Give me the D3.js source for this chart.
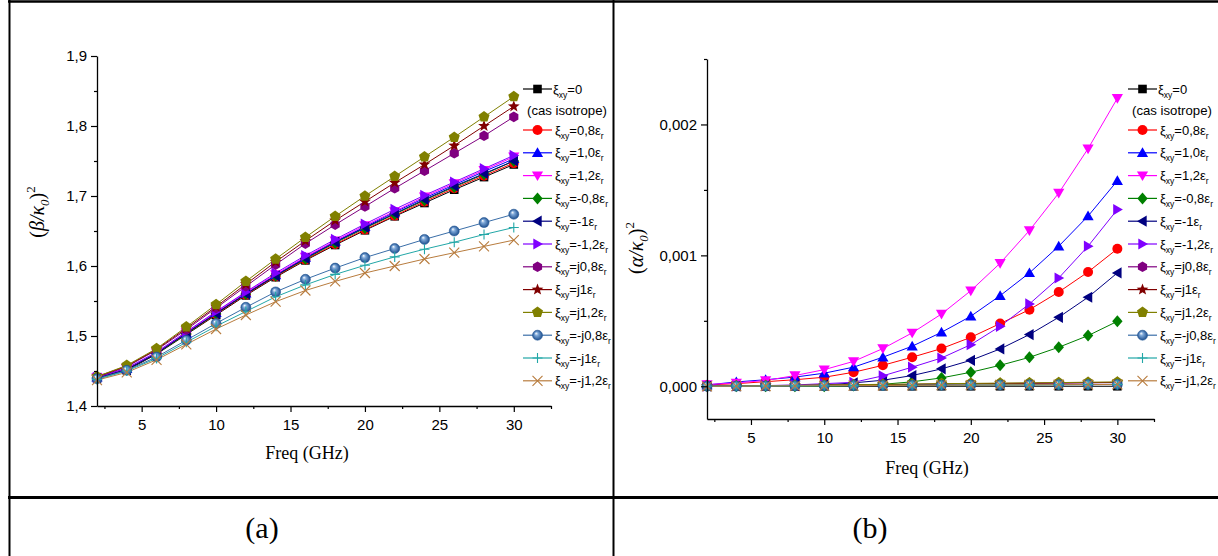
<!DOCTYPE html>
<html><head><meta charset="utf-8">
<script src="https://cdn.jsdelivr.net/npm/d3@7"></script>
<style>
body{margin:0;background:#fff}
svg{display:block}
</style></head><body>
<svg id="c" width="1218" height="556"></svg>
<script>
// ---------- data ----------
const freq = [2,4,6,8,10,12,14,16,18,20,22,24,26,28,30];

const seriesLabels = ["=0","=0,8","=1,0","=1,2","=-0,8","=-1","=-1,2","=j0,8","=j1","=j1,2","=-j0,8","=-j1","=-j1,2"];
const seriesHasEps = [false,true,true,true,true,true,true,true,true,true,true,true,true];
const seriesColors = ["#000000","#ff0000","#0000ff","#ff00ff","#008000","#000080","#8000ff","#800080","#800000","#808000","#3a6ea8","#22a7a7","#b87c3e"];
const seriesMarkers = ["square","circle","triUp","triDown","diamond","triLeft","triRight","hexagon","star","pentagon","sphere","plus","cross"];

// (beta/k0)^2  — panel (a)
const betaIso   = [1.440,1.451,1.474,1.502,1.530,1.558,1.584,1.608,1.630,1.651,1.671,1.690,1.709,1.727,1.745];
const beta08    = [1.440,1.452,1.475,1.503,1.531,1.559,1.585,1.609,1.631,1.652,1.672,1.692,1.711,1.729,1.747];
const beta10    = [1.441,1.453,1.476,1.504,1.533,1.561,1.587,1.612,1.635,1.656,1.677,1.697,1.716,1.735,1.753];
const beta12    = [1.441,1.453,1.476,1.505,1.534,1.562,1.588,1.613,1.636,1.658,1.678,1.699,1.718,1.737,1.756];
const betaM08   = [1.440,1.452,1.475,1.503,1.532,1.560,1.586,1.610,1.633,1.654,1.674,1.694,1.713,1.731,1.750];
const betaM1    = [1.440,1.452,1.475,1.504,1.532,1.560,1.586,1.611,1.634,1.655,1.675,1.695,1.714,1.732,1.750];
const betaM12   = [1.441,1.454,1.477,1.506,1.535,1.563,1.590,1.615,1.638,1.660,1.681,1.701,1.720,1.739,1.758];
const betaJ08   = [1.441,1.456,1.480,1.509,1.540,1.571,1.602,1.632,1.659,1.685,1.711,1.736,1.761,1.786,1.813];
const betaJ1    = [1.442,1.457,1.481,1.511,1.542,1.574,1.606,1.636,1.665,1.692,1.719,1.745,1.772,1.800,1.828];
const betaJ12   = [1.442,1.458,1.482,1.513,1.545,1.578,1.610,1.641,1.671,1.700,1.728,1.756,1.784,1.813,1.842];
const betaMJ08  = [1.439,1.451,1.470,1.494,1.518,1.541,1.563,1.581,1.597,1.612,1.625,1.638,1.650,1.662,1.674];
const betaMJ1   = [1.438,1.450,1.468,1.491,1.514,1.535,1.556,1.573,1.588,1.601,1.613,1.624,1.634,1.645,1.655];
const betaMJ12  = [1.437,1.448,1.466,1.488,1.510,1.530,1.549,1.565,1.578,1.590,1.600,1.610,1.619,1.628,1.637];

// (alpha/k0)^2 — panel (b)
const alphaIso  = [0,0,0,0,0,0,0,0,0,0,0,0,0,0,0];
const alpha08   = [0.000010,0.000020,0.000035,0.000050,0.000069,0.000107,0.000160,0.000222,0.000288,0.000374,0.000479,0.000585,0.000720,0.000873,0.001050];
const alpha10   = [0.000010,0.000033,0.000050,0.000070,0.000100,0.000146,0.000222,0.000306,0.000412,0.000535,0.000692,0.000866,0.001070,0.001300,0.001570];
const alpha12   = [0.000013,0.000026,0.000044,0.000082,0.000127,0.000190,0.000288,0.000408,0.000552,0.000730,0.000940,0.001190,0.001476,0.001815,0.002200];
const alphaM08  = [0,0,0,0,0,0.000005,0.000015,0.000034,0.000064,0.000107,0.000160,0.000221,0.000298,0.000387,0.000496];
const alphaM1   = [0,0,0.000002,0.000005,0.000010,0.000026,0.000046,0.000082,0.000133,0.000198,0.000285,0.000395,0.000527,0.000680,0.000866];
const alphaM12  = [0,0.000002,0.000005,0.000010,0.000020,0.000030,0.000080,0.000146,0.000216,0.000318,0.000458,0.000629,0.000827,0.001070,0.001350];
const alphaJ08  = [0,0.000002,0.000004,0.000006,0.000008,0.000010,0.000012,0.000014,0.000016,0.000018,0.000020,0.000022,0.000024,0.000026,0.000028];
const alphaJ1   = [0,0.000002,0.000004,0.000006,0.000008,0.000011,0.000013,0.000015,0.000018,0.000020,0.000022,0.000024,0.000026,0.000028,0.000030];
const alphaJ12  = [0,0.000003,0.000005,0.000007,0.000010,0.000012,0.000015,0.000017,0.000020,0.000022,0.000024,0.000026,0.000028,0.000031,0.000033];
const alphaMJ08 = [0,0.000001,0.000002,0.000003,0.000004,0.000005,0.000006,0.000007,0.000008,0.000009,0.000010,0.000011,0.000012,0.000013,0.000014];
const alphaMJ1  = [0,0.000001,0.000002,0.000003,0.000004,0.000005,0.000006,0.000007,0.000008,0.000009,0.000010,0.000011,0.000012,0.000013,0.000014];
const alphaMJ12 = [0,0.000001,0.000002,0.000003,0.000004,0.000005,0.000006,0.000007,0.000008,0.000009,0.000010,0.000011,0.000012,0.000013,0.000014];

const betaSeries  = [betaIso,beta08,beta10,beta12,betaM08,betaM1,betaM12,betaJ08,betaJ1,betaJ12,betaMJ08,betaMJ1,betaMJ12];
const alphaSeries = [alphaIso,alpha08,alpha10,alpha12,alphaM08,alphaM1,alphaM12,alphaJ08,alphaJ1,alphaJ12,alphaMJ08,alphaMJ1,alphaMJ12];

const xTicksMajor = [5,10,15,20,25,30];
const xTicksMinor = [2.5,7.5,12.5,17.5,22.5,27.5,32.5];
const yTicksA = [1.4,1.5,1.6,1.7,1.8,1.9];
const yTicksAMinor = [1.45,1.55,1.65,1.75,1.85];
const yTicksB = [0,0.001,0.002];
const yTicksBMinor = [0.0005,0.0015,0.0025];

// ---------- drawing ----------
const svg = d3.select("#c");
const defs = svg.append("defs");
const grad = defs.append("radialGradient").attr("id","sph").attr("cx","0.5").attr("cy","0.5").attr("r","0.5").attr("fx","0.35").attr("fy","0.3");
grad.append("stop").attr("offset","0%").attr("stop-color","#ffffff");
grad.append("stop").attr("offset","35%").attr("stop-color","#7ea8d8");
grad.append("stop").attr("offset","100%").attr("stop-color","#1d4f8f");

function poly(n, r, rot){
  const pts=[];
  for(let i=0;i<n;i++){const a=rot+i*2*Math.PI/n;pts.push([r*Math.cos(a),r*Math.sin(a)]);}
  return "M"+pts.map(p=>p[0].toFixed(2)+","+p[1].toFixed(2)).join("L")+"Z";
}
function star(ro, ri){
  const pts=[];
  for(let i=0;i<10;i++){const r=i%2?ri:ro;const a=-Math.PI/2+i*Math.PI/5;pts.push([r*Math.cos(a),r*Math.sin(a)]);}
  return "M"+pts.map(p=>p[0].toFixed(2)+","+p[1].toFixed(2)).join("L")+"Z";
}
const markerPaths = {
  square:"M-4.3,-4.3h8.6v8.6h-8.6z",
  circle:"M5,0A5,5 0 1,1 -5,0A5,5 0 1,1 5,0Z",
  triUp:"M0,-5.5L5.6,4.2L-5.6,4.2Z",
  triDown:"M0,5.5L5.6,-4.2L-5.6,-4.2Z",
  diamond:"M0,-6L5.2,0L0,6L-5.2,0Z",
  triLeft:"M-5.5,0L4.2,-5.6L4.2,5.6Z",
  triRight:"M5.5,0L-4.2,-5.6L-4.2,5.6Z",
  hexagon:poly(6,5.3,-Math.PI/2),
  star:star(6.2,2.6),
  pentagon:poly(5,5.8,-Math.PI/2),
  sphere:"M5,0A5,5 0 1,1 -5,0A5,5 0 1,1 5,0Z",
  plus:"M-5,0H5M0,-5V5",
  cross:"M-5,-5L5,5M5,-5L-5,5"
};
function drawMarker(g, x, y, i){
  const m = seriesMarkers[i], c = seriesColors[i];
  const p = g.append("path").attr("d", markerPaths[m]).attr("transform",`translate(${x},${y})`);
  if(m==="plus"||m==="cross"){ p.attr("fill","none").attr("stroke",c).attr("stroke-width",1.1); }
  else if(m==="sphere"){ p.attr("fill","url(#sph)").attr("stroke","#2a5c98").attr("stroke-width",0.6); }
  else { p.attr("fill",c).attr("stroke","none"); }
}

function fmtComma(spec){ const f=d3.format(spec); return d=>f(d).replace(".",","); }

function panel(cfg){
  const x = d3.scaleLinear().domain([2,32.5]).range([cfg.x0,cfg.x1]);
  const y = d3.scaleLinear().domain(cfg.yDomain).range([cfg.y1,cfg.y0]);
  const g = svg.append("g");
  // series
  const line = d3.line().x((d,i)=>x(freq[i])).y(d=>y(d));
  cfg.series.forEach((s,i)=>{
    g.append("path").attr("d",line(s)).attr("fill","none").attr("stroke",seriesColors[i]).attr("stroke-width",1);
  });
  cfg.series.forEach((s,i)=>{
    const mg = g.append("g");
    s.forEach((v,k)=>drawMarker(mg, x(freq[k]), y(v), i));
  });
  // axes
  g.append("g").attr("transform",`translate(0,${cfg.y1})`)
    .call(d3.axisBottom(x).tickValues(xTicksMajor).tickSize(6).tickPadding(7).tickSizeOuter(0).tickFormat(d3.format("d")));
  g.append("g").attr("transform",`translate(0,${cfg.y1})`)
    .call(d3.axisBottom(x).tickValues(xTicksMinor).tickSize(3).tickSizeOuter(0).tickFormat(""))
    .select(".domain").remove();
  g.append("g").attr("transform",`translate(${cfg.x0},0)`)
    .call(d3.axisLeft(y).tickValues(cfg.yTicks).tickSize(6).tickPadding(4).tickSizeOuter(0).tickFormat(fmtComma(cfg.yFmt)));
  g.append("g").attr("transform",`translate(${cfg.x0},0)`)
    .call(d3.axisLeft(y).tickValues(cfg.yTicksMinor).tickSize(3).tickSizeOuter(0).tickFormat(""))
    .select(".domain").remove();
  g.selectAll(".tick text").attr("font-family","Liberation Sans, Arial, sans-serif").attr("font-size",15).attr("fill","#000");
  g.selectAll(".domain").attr("stroke","#000").attr("stroke-width",1.3);
  g.selectAll(".tick line").attr("stroke","#000").attr("stroke-width",1.2);

  // x label
  g.append("text").attr("x",cfg.xLabelX).attr("y",cfg.xLabelY).attr("text-anchor","middle")
    .attr("font-family","Liberation Serif, Times New Roman, serif").attr("font-size",18).text("Freq (GHz)");
  // y label
  const yl = g.append("text").attr("transform",`translate(${cfg.yLabelX},${cfg.yLabelY}) rotate(-90)`)
    .attr("text-anchor","middle").attr("font-family","Liberation Serif, Times New Roman, serif").attr("font-size",20);
  yl.append("tspan").text("(");
  yl.append("tspan").attr("font-style","italic").text(cfg.greek+"/κ");
  yl.append("tspan").attr("font-style","italic").attr("font-size",13).attr("dy",5).text("0");
  yl.append("tspan").attr("dy",-5).text(")");
  yl.append("tspan").attr("font-size",13).attr("dy",-9).text("2");

  // legend
  const lg = g.append("g");
  cfg.series.forEach((s,i)=>{
    const ly = i===0 ? cfg.legY0 : cfg.legY1 + (i-1)*cfg.legDy;
    lg.append("line").attr("x1",cfg.legX).attr("x2",cfg.legX+29).attr("y1",ly).attr("y2",ly)
      .attr("stroke",seriesColors[i]).attr("stroke-width",1.2);
    drawMarker(lg, cfg.legX+14.5, ly, i);
    const t = lg.append("text").attr("x",cfg.legX+(i===0?30:32)).attr("y",ly+4.5)
      .attr("font-family","Liberation Sans, Arial, sans-serif").attr("font-size",13);
    t.append("tspan").text("ξ");
    t.append("tspan").attr("font-size",8.5).attr("dy",4).text("xy");
    t.append("tspan").attr("dy",-4).text(seriesLabels[i]+(seriesHasEps[i]?"ε":""));
    if(seriesHasEps[i]) t.append("tspan").attr("font-size",8.5).attr("dy",4).text("r");
    if(i===0){
      lg.append("text").attr("x",cfg.legX+4).attr("y",cfg.legY0+26)
        .attr("font-family","Liberation Sans, Arial, sans-serif").attr("font-size",13.2).text("(cas isotrope)");
    }
  });
}

panel({x0:97,x1:551,y0:56,y1:406,yDomain:[1.4,1.9],yTicks:yTicksA,yTicksMinor:yTicksAMinor,yFmt:".1f",
  series:betaSeries,greek:"β",xLabelX:307,xLabelY:459,yLabelX:44,yLabelY:212,
  legX:523,legY0:89,legY1:130,legDy:22.8});
panel({x0:707,x1:1154,y0:59,y1:419,yDomain:[-0.00025,0.0025],yTicks:yTicksB,yTicksMinor:yTicksBMinor,yFmt:".3f",
  series:alphaSeries,greek:"α",xLabelX:927,xLabelY:474,yLabelX:643,yLabelY:248,
  legX:1128,legY0:89,legY1:130,legDy:22.8});

// table borders
const bt = svg.append("g").attr("stroke","#000");
bt.append("line").attr("x1",8).attr("x2",1218).attr("y1",1.5).attr("y2",1.5).attr("stroke-width",2.5);
bt.append("line").attr("x1",9.5).attr("x2",9.5).attr("y1",0).attr("y2",556).attr("stroke-width",2);
bt.append("line").attr("x1",613.5).attr("x2",613.5).attr("y1",0).attr("y2",556).attr("stroke-width",2);
bt.append("line").attr("x1",8).attr("x2",1218).attr("y1",497.5).attr("y2",497.5).attr("stroke-width",3);

svg.append("text").attr("x",262).attr("y",538).attr("text-anchor","middle")
  .attr("font-family","Liberation Serif, Times New Roman, serif").attr("font-size",30).text("(a)");
svg.append("text").attr("x",870).attr("y",538).attr("text-anchor","middle")
  .attr("font-family","Liberation Serif, Times New Roman, serif").attr("font-size",30).text("(b)");
</script>
</body></html>
